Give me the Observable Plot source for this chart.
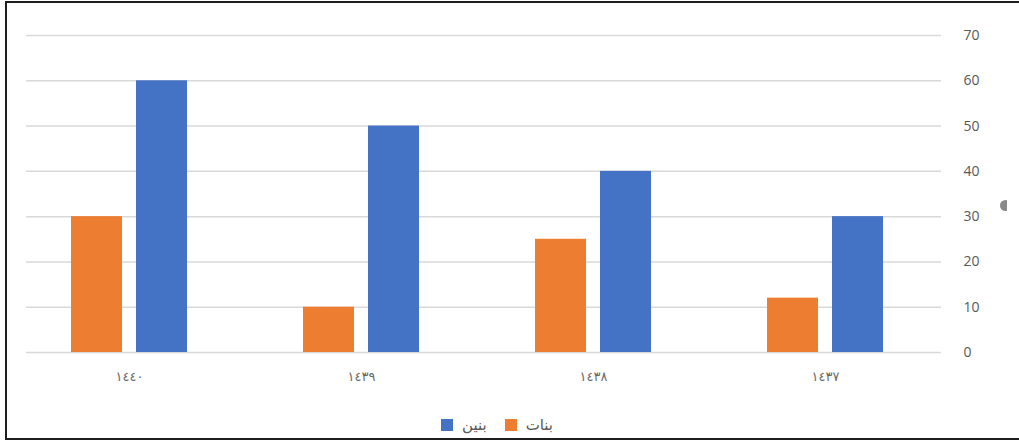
<!DOCTYPE html>
<html>
<head>
<meta charset="utf-8">
<script src="https://cdn.jsdelivr.net/npm/d3@7"></script>
<script src="https://cdn.jsdelivr.net/npm/@observablehq/plot@0.6"></script>
<style>
  html, body { margin: 0; padding: 0; background: #fff; }
  body { width: 1019px; height: 443px; position: relative; overflow: hidden; font-family: "Open Sans", "DejaVu Sans", sans-serif; }
  #frame { position: absolute; left: 5px; top: 1px; width: 1020px; height: 439px; border: 2px solid #1e1e1e; border-right: none; box-sizing: border-box; }
  #chart { position: absolute; left: 0; top: 0; }
  #legend { position: absolute; top: 416px; left: 0; width: 994px; display: flex; justify-content: center; align-items: center; gap: 18px; color: #595959; font-size: 15px; font-family: "DejaVu Sans", sans-serif; }
  .item { display: flex; align-items: center; gap: 9px; }
  .sw { width: 12px; height: 12px; display: inline-block; }
  #handle { position: absolute; left: 1000px; top: 200px; width: 7px; height: 11px; overflow: hidden; }
  #handle div { width: 11px; height: 11px; border-radius: 50%; background: #8a8a8a; }
</style>
</head>
<body>
<div id="frame"></div>
<div id="chart"></div>
<div id="legend"></div>
<div id="handle"><div></div></div>
<script>
const years = ["١٤٤٠", "١٤٣٩", "١٤٣٨", "١٤٣٧"];
const series = ["بنات", "بنين"];
const girls = [30, 10, 25, 12];
const boys = [60, 50, 40, 30];
const yTicks = [0, 10, 20, 30, 40, 50, 60, 70];
const colors = ["#ED7D31", "#4472C4"];

const data = years.flatMap((yr, i) => [
  {year: yr, s: series[0], v: girls[i]},
  {year: yr, s: series[1], v: boys[i]}
]);
const grid = years.flatMap(yr => yTicks.map(t => ({year: yr, t})));

const chart = Plot.plot({
  width: 1019,
  height: 400,
  marginLeft: 12,
  marginRight: 78,
  marginTop: 35,
  marginBottom: 48,
  style: {fontFamily: "'Open Sans', 'DejaVu Sans', sans-serif", fontSize: "13px", color: "#595959", background: "transparent"},
  fx: {domain: years, padding: 0, label: null, axis: "bottom", tickSize: 0, tickPadding: 19, fontSize: 14},
  x: {domain: series, axis: null, paddingInner: 0.212, paddingOuter: 0.866},
  y: {domain: [0, 70], axis: null},
  color: {domain: series, range: colors},
  marks: [
    Plot.ruleY(grid.filter(d => d.year !== years[0]), {fx: "year", y: "t", stroke: "#d9d9d9", strokeWidth: 1.5}),
    Plot.ruleY(grid.filter(d => d.year === years[0]), {fx: "year", y: "t", stroke: "#d9d9d9", strokeWidth: 1.5, insetLeft: 13}),
    Plot.barY(data, {fx: "year", x: "s", y: "v", fill: "s"}),
    Plot.axisY({anchor: "right", ticks: yTicks, tickSize: 0, tickPadding: 22, label: null, fill: "#595959", fontSize: 14, textAnchor: "start"})
  ]
});
document.getElementById("chart").appendChild(chart);
d3.select(chart).selectAll("[aria-label='fx-axis tick label'] text").attr("letter-spacing", "3px").attr("fill", "#6b6b6b");

const legend = document.getElementById("legend");
[[series[1], colors[1]], [series[0], colors[0]]].forEach(([name, col]) => {
  const it = document.createElement("div");
  it.className = "item";
  const sw = document.createElement("span");
  sw.className = "sw";
  sw.style.background = col;
  const t = document.createElement("span");
  t.textContent = name;
  it.appendChild(sw);
  it.appendChild(t);
  legend.appendChild(it);
});
</script>
</body>
</html>
